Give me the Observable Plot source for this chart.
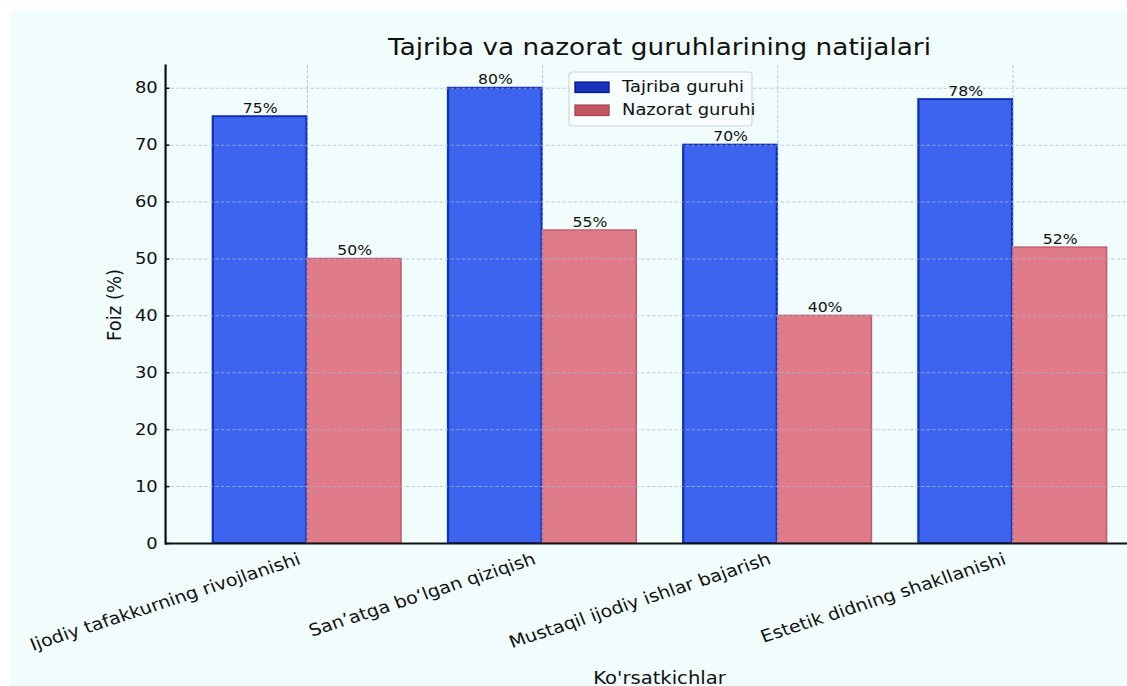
<!DOCTYPE html>
<html>
<head>
<meta charset="utf-8">
<script src="https://cdn.jsdelivr.net/npm/d3@7"></script>
<script src="https://cdn.jsdelivr.net/npm/@observablehq/plot@0.6"></script>
<style>
  html, body { margin: 0; padding: 0; background: #ffffff; overflow: hidden; width: 1127px; height: 686px; }
  #bg { position: absolute; left: 10px; top: 11px; width: 1117px; height: 675px; background: #f1fcfd; }
  #wrap { position: absolute; left: 0; top: 0; height: 686px; transform-origin: 0 0; }
  #wrap > svg { position: absolute; left: 0; top: 0; max-width: none; }
</style>
</head>
<body>
<div id="bg"></div>
<div id="wrap"></div>
<script>
const categories = ["Ijodiy tafakkurning rivojlanishi", "San’atga bo‘lgan qiziqish", "Mustaqil ijodiy ishlar bajarish", "Estetik didning shakllanishi"];
const groups = ["Tajriba guruhi", "Nazorat guruhi"];
const tajriba = [75, 80, 70, 78];
const nazorat = [50, 55, 40, 52];
const yTicks = [0, 10, 20, 30, 40, 50, 60, 70, 80];
const titleText = "Tajriba va nazorat guruhlarining natijalari";
const yLabelText = "Foiz (%)";
const xLabelText = "Ko'rsatkichlar";

const fills = ["#3c64ee", "#e07c89"];
const strokes = ["#1030b8", "#c06070"];

const table = [];
categories.forEach((c, i) => {
  table.push({category: c, group: groups[0], value: tajriba[i]});
  table.push({category: c, group: groups[1], value: nazorat[i]});
});

// The reference is horizontally stretched; draw at natural size, then stretch.
const S = 1.12;
const W = 1154 / S, H = 686, ML = 165 / S, MR = 0, MT = 65, MB = 143;
const PI = 0.2, PO = 0.193;
const step = (W - ML - MR) / (categories.length - PI + 2 * PO);
const half = step * (1 - PI) / 2;

const wrap = document.getElementById("wrap");
wrap.style.width = W + "px";
wrap.style.transform = `scale(${S}, 1)`;

const gridStyle = {stroke: "#aab6dc", strokeOpacity: 0.75, strokeDasharray: "3,2", strokeWidth: 1};

const chart = Plot.plot({
  width: W, height: H,
  marginLeft: ML, marginRight: MR, marginTop: MT, marginBottom: MB,
  style: {background: "transparent", fontFamily: "DejaVu Sans", color: "#111", overflow: "visible", maxWidth: "none"},
  x: {domain: categories, paddingInner: PI, paddingOuter: PO, label: null},
  y: {domain: [0, 84], label: null},
  marks: [
    Plot.barY(table.filter(d => d.group === groups[0]), {x: "category", y: "value", fill: fills[0], stroke: strokes[0], strokeWidth: 2, insetRight: half}),
    Plot.barY(table.filter(d => d.group === groups[1]), {x: "category", y: "value", fill: fills[1], stroke: strokes[1], strokeWidth: 1.5, insetLeft: half}),
    Plot.gridY(yTicks.filter(t => t > 0), gridStyle),
    Plot.gridX(categories, gridStyle),
    Plot.text(table.filter(d => d.group === groups[0]), {x: "category", y: "value", text: d => d.value + "%", dx: -half / 2, dy: -4, lineAnchor: "bottom", fontSize: 14, fill: "#111"}),
    Plot.text(table.filter(d => d.group === groups[1]), {x: "category", y: "value", text: d => d.value + "%", dx: half / 2, dy: -4, lineAnchor: "bottom", fontSize: 14, fill: "#111"}),
    Plot.axisY({ticks: yTicks, tickSize: -4, tickPadding: 11, fontSize: 16, label: null, stroke: "#111", strokeWidth: 1.5}),
    Plot.axisX({tickRotate: -20, tickSize: 0, tickPadding: 15, dx: -7, fontSize: 17, label: null}),
    Plot.ruleY([0], {stroke: "#111", strokeWidth: 2}),
    Plot.frame({anchor: "left", stroke: "#111", strokeWidth: 2})
  ]
});
wrap.appendChild(chart);

// Overlay: title, axis labels, legend (real text)
const ov = d3.select(wrap).append("svg")
  .attr("width", W).attr("height", H)
  .attr("viewBox", `0 0 ${W} ${H}`)
  .style("font-family", "DejaVu Sans")
  .style("overflow", "visible");

const cx = (ML + W - MR) / 2;
ov.append("text").attr("x", cx).attr("y", 55).attr("text-anchor", "middle")
  .attr("font-size", 23.5).attr("fill", "#111").text(titleText);
ov.append("text").attr("x", cx).attr("y", 684).attr("text-anchor", "middle")
  .attr("font-size", 17.5).attr("fill", "#111").text(xLabelText);
ov.append("text").attr("transform", `translate(${114 / S + 6},305) rotate(-90)`).attr("text-anchor", "middle")
  .attr("font-size", 18).attr("fill", "#111").text(yLabelText);

const lx = 569 / S, ly = 72;
const lg = ov.append("g").attr("transform", `translate(${lx},${ly})`);
lg.append("rect").attr("x", 0).attr("y", 0).attr("width", 183 / S).attr("height", 54).attr("rx", 3)
  .attr("fill", "#f7fdfe").attr("stroke", "#cfd3d8").attr("stroke-width", 1);
const swFill = ["#1632bc", "#c45664"];
const swStroke = ["#061a8c", "#a84454"];
groups.forEach((g, i) => {
  lg.append("rect").attr("x", 6 / S).attr("y", 10 + i * 23).attr("width", 34 / S).attr("height", 10.5)
    .attr("fill", swFill[i]).attr("stroke", swStroke[i]).attr("stroke-width", 1.2);
  lg.append("text").attr("x", 53 / S).attr("y", 20 + i * 23.5).attr("font-size", 16).attr("fill", "#111").text(g);
});
</script>
</body>
</html>
